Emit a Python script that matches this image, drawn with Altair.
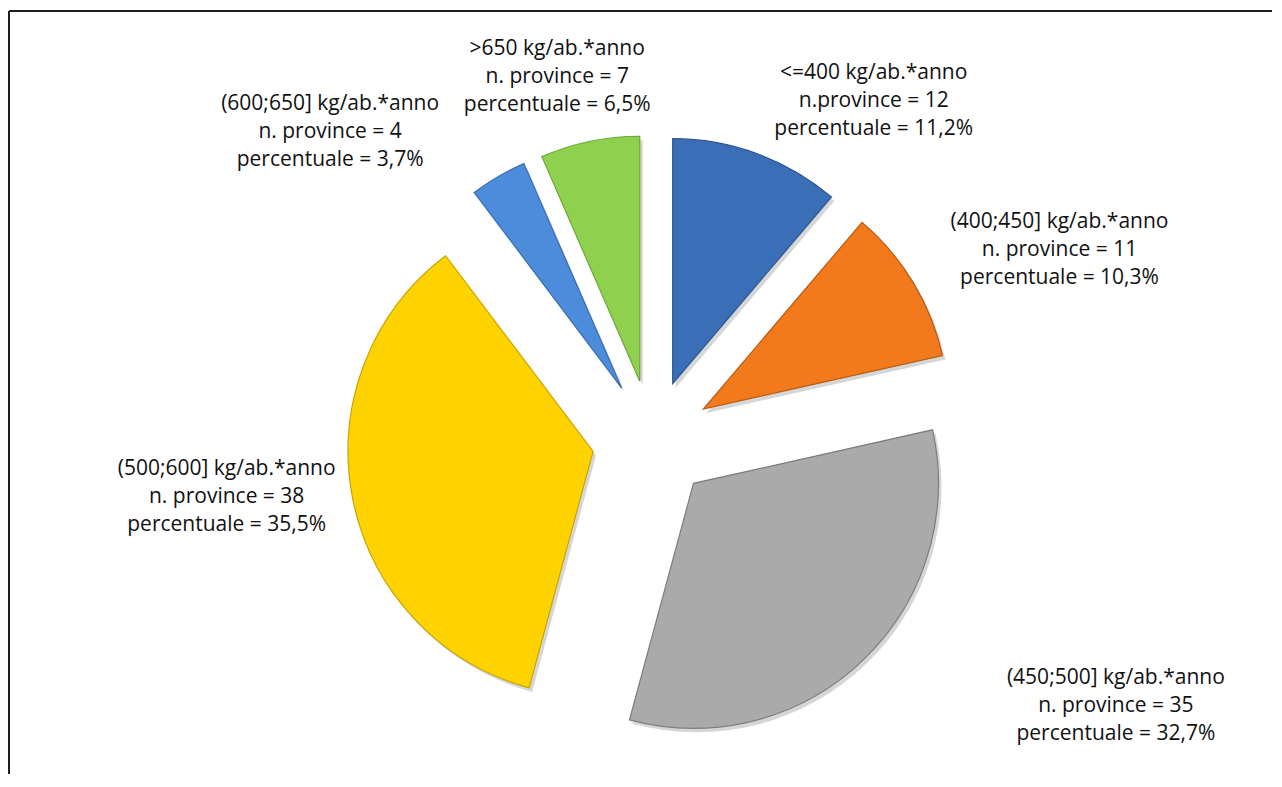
import altair as alt
import pandas as pd

# ---- data ----
CATEGORIES = ["<=400", "(400;450]", "(450;500]", "(500;600]", "(600;650]", ">650"]
N_PROVINCE = [12, 11, 35, 38, 4, 7]
N_LABEL = ["n.province", "n. province", "n. province", "n. province", "n. province", "n. province"]
UNIT = "kg/ab.*anno"

# ---- styling / layout ----
COLORS = ["#3a6eb6", "#f27a1c", "#aaaaaa", "#ffd300", "#4c8cda", "#8fd14f"]
EDGES = ["#2b5590", "#b85a10", "#7d7d7d", "#c9a400", "#3a6db0", "#6aa83a"]
CX, CY = 644, 432          # pie centre (px, chart coords)
EXPLODE = 60               # slice offset (px)
RADIUS = 245
LABEL_ANGLE = [33.1, 64.9, 119.7, 262.5, 313.8, 345.4]   # degrees, clockwise from 12 o'clock
LABEL_RADIUS = [406, 450, 534, 429, 446, 376]
LINE_H = 28
FONT_SIZE = 21
W, H = 1264, 766

total = sum(N_PROVINCE)
rows = []
for i, (c, n) in enumerate(zip(CATEGORIES, N_PROVINCE)):
    pct = f"{n / total * 100:.1f}".replace(".", ",")
    rows.append({
        "order": i, "cat": c, "n": n,
        "label": f"{c} {UNIT}\n{N_LABEL[i]} = {n}\npercentuale = {pct}%",
        "la": LABEL_ANGLE[i], "lr": LABEL_RADIUS[i],
    })
df = pd.DataFrame(rows)

base = alt.Chart(df).transform_window(
    cum="sum(n)", sort=[alt.SortField("order")]
).transform_joinaggregate(
    total="sum(n)"
).transform_calculate(
    start="datum.cum - datum.n",
    mid="PI * (2 * datum.cum - datum.n) / datum.total",
).transform_calculate(
    cx=f"{CX} + {EXPLODE} * sin(datum.mid)",
    cy=f"{CY} - {EXPLODE} * cos(datum.mid)",
    sx=f"{CX} + {EXPLODE} * sin(datum.mid) + 3",
    sy=f"{CY} - {EXPLODE} * cos(datum.mid) + 4",
    tx=f"{CX} + datum.lr * sin(datum.la * PI / 180)",
    ty=f"{CY} - datum.lr * cos(datum.la * PI / 180) - {LINE_H} + 1",
)

theta_scale = alt.Scale(domain=[0, total], zero=True, nice=False)

shadow = base.mark_arc(radius=RADIUS, color="#000000", opacity=0.16).encode(
    theta=alt.Theta("start:Q", scale=theta_scale, stack=False),
    theta2="cum:Q",
    x=alt.X("sx:Q", scale=None),
    y=alt.Y("sy:Q", scale=None),
)

arcs = base.mark_arc(radius=RADIUS, strokeWidth=1.2).encode(
    theta=alt.Theta("start:Q", scale=theta_scale, stack=False),
    theta2="cum:Q",
    x=alt.X("cx:Q", scale=None),
    y=alt.Y("cy:Q", scale=None),
    color=alt.Color("cat:N", scale=alt.Scale(domain=CATEGORIES, range=COLORS), legend=None),
    stroke=alt.Stroke("cat:N", scale=alt.Scale(domain=CATEGORIES, range=EDGES), legend=None),
)

labels = base.mark_text(
    font="Open Sans", fontSize=FONT_SIZE, color="#111111", lineBreak="\n",
    lineHeight=LINE_H, align="center", baseline="middle",
).encode(
    x=alt.X("tx:Q", scale=None),
    y=alt.Y("ty:Q", scale=None),
    text="label:N",
)

frame_top = alt.Chart(pd.DataFrame({"k": [0]})).mark_rule(color="#1e1e1e", strokeWidth=2).encode(
    x=alt.value(1), x2=alt.value(W), y=alt.value(3)
)
frame_left = alt.Chart(pd.DataFrame({"k": [0]})).mark_rule(color="#1e1e1e", strokeWidth=2).encode(
    x=alt.value(1), y=alt.value(3), y2=alt.value(H)
)

chart = alt.layer(frame_top, frame_left, shadow, arcs, labels).properties(
    width=W, height=H, autosize=alt.AutoSizeParams(type="none"), padding=0
).configure_view(strokeWidth=0)

chart.save("out.html", embed_options={"renderer": "svg", "actions": False})
